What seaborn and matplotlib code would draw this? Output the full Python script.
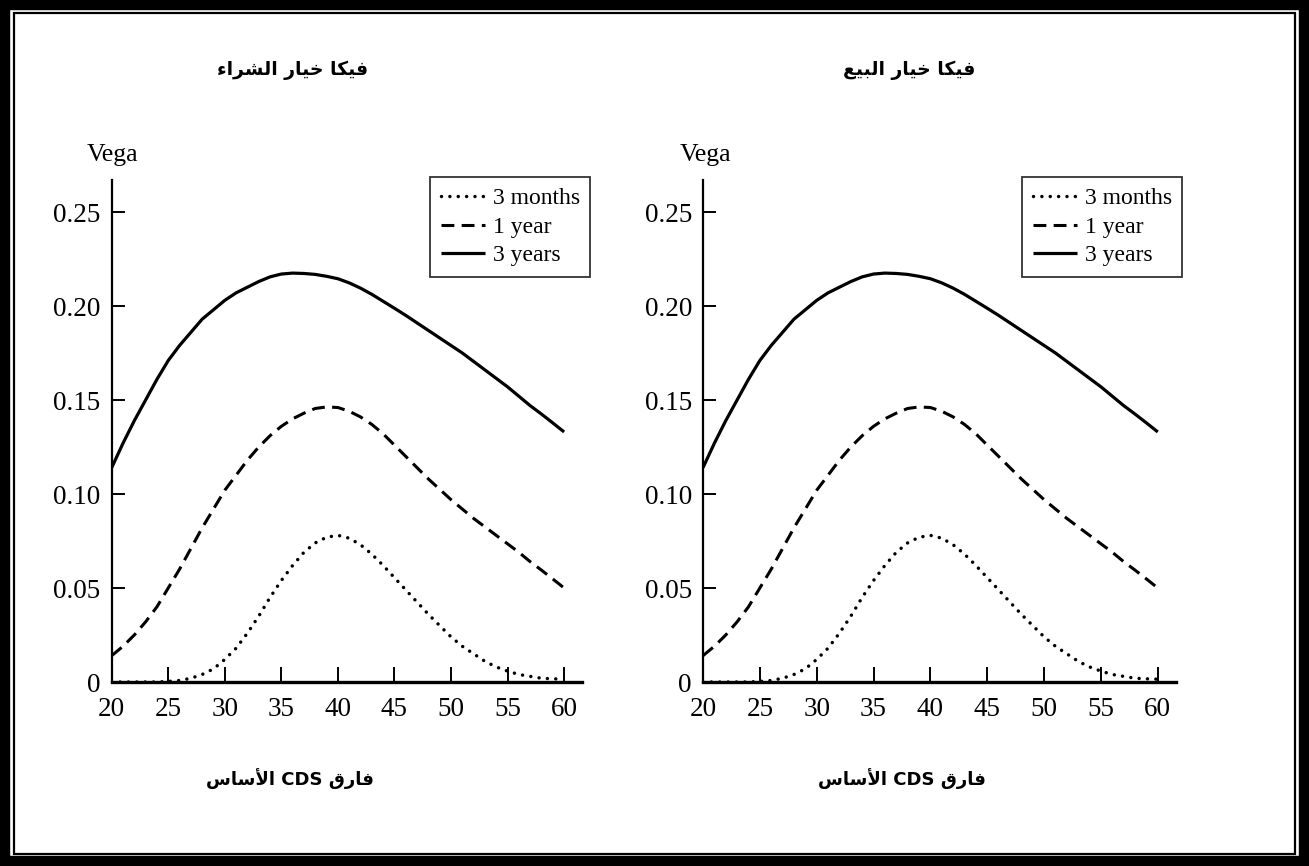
import matplotlib
matplotlib.use("Agg")
import matplotlib.pyplot as plt
import seaborn as sns
import pandas as pd
from matplotlib.patches import Rectangle

# ---------------- data ----------------
spread = list(range(20, 61))
vega_3m = [0.0, 0.0, 0.0, 0.0, 0.0, 0.0003, 0.0008, 0.002, 0.004, 0.007,
           0.012, 0.018, 0.026, 0.035, 0.045, 0.054, 0.062, 0.069, 0.074, 0.077,
           0.078, 0.0765, 0.073, 0.068, 0.062, 0.0555, 0.049, 0.0425, 0.036, 0.030,
           0.024, 0.019, 0.015, 0.011, 0.008, 0.0058, 0.004, 0.003, 0.002, 0.0017,
           0.0015]
vega_1y = [0.014, 0.019, 0.025, 0.032, 0.040, 0.050, 0.060, 0.071, 0.082, 0.092,
           0.102, 0.110, 0.118, 0.125, 0.131, 0.136, 0.140, 0.143, 0.1455, 0.1463,
           0.146, 0.144, 0.141, 0.137, 0.132, 0.126, 0.120, 0.114, 0.108, 0.1025,
           0.097, 0.092, 0.087, 0.0825, 0.078, 0.0735, 0.069, 0.064, 0.0595, 0.0548,
           0.050]
vega_3y = [0.114, 0.127, 0.139, 0.150, 0.161, 0.171, 0.179, 0.186, 0.193, 0.198,
           0.203, 0.207, 0.210, 0.213, 0.2155, 0.217, 0.2175, 0.2173, 0.2168, 0.2158,
           0.2145, 0.2123, 0.2095, 0.2062, 0.2025, 0.1988, 0.195, 0.191, 0.187, 0.183,
           0.179, 0.175, 0.1705, 0.166, 0.1615, 0.157, 0.152, 0.147, 0.1425, 0.1378,
           0.133]
series_labels = ["3 months", "1 year", "3 years"]
x_ticks = [20, 25, 30, 35, 40, 45, 50, 55, 60]
y_ticks = [0, 0.05, 0.10, 0.15, 0.20, 0.25]
y_tick_labels = ["0", "0.05", "0.10", "0.15", "0.20", "0.25"]
titles = ["فيكا خيار الشراء", "فيكا خيار البيع"]
x_label = "فارق CDS الأساس"
y_label = "Vega"

# ------------- minimal Arabic shaping (presentation forms, RTL) -------------
FORMS = {
    'ا': ('\uFE8D', '\uFE8E', None, None),
    'أ': ('\uFE83', '\uFE84', None, None),
    'ء': ('\uFE80', None, None, None),
    'ب': ('\uFE8F', '\uFE90', '\uFE91', '\uFE92'),
    'ي': ('\uFEF1', '\uFEF2', '\uFEF3', '\uFEF4'),
    'ك': ('\uFED9', '\uFEDA', '\uFEDB', '\uFEDC'),
    'ف': ('\uFED1', '\uFED2', '\uFED3', '\uFED4'),
    'خ': ('\uFEA5', '\uFEA6', '\uFEA7', '\uFEA8'),
    'ر': ('\uFEAD', '\uFEAE', None, None),
    'ل': ('\uFEDD', '\uFEDE', '\uFEDF', '\uFEE0'),
    'ش': ('\uFEB5', '\uFEB6', '\uFEB7', '\uFEB8'),
    'ع': ('\uFEC9', '\uFECA', '\uFECB', '\uFECC'),
    'ق': ('\uFED5', '\uFED6', '\uFED7', '\uFED8'),
    'س': ('\uFEB1', '\uFEB2', '\uFEB3', '\uFEB4'),
}
LAM_ALEF = {'ا': ('\uFEFB', '\uFEFC'), 'أ': ('\uFEF7', '\uFEF8')}


def shape_word(word):
    units = []
    i = 0
    while i < len(word):
        c = word[i]
        if c == 'ل' and i + 1 < len(word) and word[i + 1] in LAM_ALEF:
            units.append(('LA', word[i + 1]))
            i += 2
        else:
            units.append(('C', c))
            i += 1

    def joins_next(u):
        k, c = u
        if k == 'LA':
            return False
        f = FORMS.get(c)
        return f is not None and f[2] is not None

    def joins_prev(u):
        k, c = u
        if k == 'LA':
            return True
        f = FORMS.get(c)
        return f is not None and f[1] is not None

    out = []
    for n, u in enumerate(units):
        pj = n > 0 and joins_next(units[n - 1]) and joins_prev(u)
        nj = n + 1 < len(units) and joins_next(u) and joins_prev(units[n + 1])
        k, c = u
        if k == 'LA':
            out.append(LAM_ALEF[c][1] if pj else LAM_ALEF[c][0])
        elif c in FORMS:
            iso, fin, ini, med = FORMS[c]
            if pj and nj:
                g = med
            elif pj:
                g = fin
            elif nj:
                g = ini
            else:
                g = iso
            out.append(g)
        else:
            out.append(c)
    return ''.join(reversed(out))


def visual(text):
    words = text.split(' ')
    shaped = [shape_word(w) if any('\u0600' <= ch <= '\u06FF' for ch in w) else w for w in words]
    return ' '.join(reversed(shaped))


# ---------------- style ----------------
sns.set_style("white")
plt.rcParams['font.family'] = ['Liberation Serif', 'DejaVu Serif']
plt.rcParams['axes.edgecolor'] = 'black'
plt.rcParams['text.color'] = 'black'
plt.rcParams['lines.solid_joinstyle'] = 'round'
plt.rcParams['lines.dash_joinstyle'] = 'round'

df = pd.DataFrame({
    "spread": spread * 3,
    "vega": vega_3m + vega_1y + vega_3y,
    "maturity": [series_labels[0]] * len(spread) + [series_labels[1]] * len(spread) + [series_labels[2]] * len(spread),
})

W, H = 1309, 866
fig = plt.figure(figsize=(W / 100, H / 100), dpi=100)
fig.patch.set_facecolor('white')

# page frame
fig.add_artist(Rectangle((5 / W, 5 / H), 1 - 10 / W, 1 - 10 / H, transform=fig.transFigure,
                         fill=False, edgecolor='black', linewidth=7.5))
fig.add_artist(Rectangle((14 / W, 12 / H), 1 - 28 / W, 1 - 25 / H, transform=fig.transFigure,
                         fill=False, edgecolor='black', linewidth=1.6))

y0_px = 682
y_per_unit = 1880
ymax = 0.267
xmax = 61.6

panels = [
    dict(x0=111.7, xpu=11.31, title_x=293, xlabel_x=290, vega_x=113, leg_x=430),
    dict(x0=703.0, xpu=11.37, title_x=909, xlabel_x=902, vega_x=706, leg_x=1022),
]

dash_map = {series_labels[0]: (0.01, 2.4), series_labels[1]: (4.2, 2.4), series_labels[2]: ""}

for p, title in zip(panels, titles):
    ax = fig.add_axes([p['x0'] / W, 1 - y0_px / H, (xmax - 20) * p['xpu'] / W, ymax * y_per_unit / H])
    sns.lineplot(data=df, x="spread", y="vega", style="maturity", style_order=series_labels,
                 dashes=dash_map, color='black', linewidth=2.3, legend=False, ax=ax)
    lws = [2.5, 2.2, 2.3]
    for line, lw in zip(ax.lines[:3], lws):
        line.set_linewidth(lw)
    ax.lines[0].set_dash_capstyle('round')
    ax.lines[1].set_dash_capstyle('butt')
    ax.lines[2].set_solid_capstyle('butt')

    ax.set_xlim(20, xmax)
    ax.set_ylim(0, ymax)
    ax.set_xticks(x_ticks)
    ax.set_yticks(y_ticks)
    ax.set_yticklabels(y_tick_labels)
    ax.set_xlabel("")
    ax.set_ylabel("")
    for s in ['top', 'right']:
        ax.spines[s].set_visible(False)
    ax.spines['left'].set_linewidth(1.6)
    ax.spines['bottom'].set_linewidth(2.4)
    ax.patch.set_alpha(0)
    ax.tick_params(axis='x', direction='in', length=11, width=1.4, pad=11, labelsize=19.5, colors='black')
    ax.tick_params(axis='y', direction='in', length=9, width=1.4, pad=8, labelsize=19.5, colors='black')
    ax.tick_params(axis='x', which='both', bottom=True)
    ax.tick_params(axis='y', which='both', left=True)

    leg = ax.legend(ax.lines[:3], series_labels, loc='upper left',
                    bbox_to_anchor=(p['leg_x'] / W, 1 - 177 / H), bbox_transform=fig.transFigure,
                    frameon=True, fancybox=False, edgecolor='black', fontsize=17,
                    handlelength=1.9, handletextpad=0.3, labelspacing=0.3, borderpad=0.45,
                    borderaxespad=0)
    leg.get_frame().set_linewidth(1.3)

    fig.text(p['vega_x'] / W, 1 - 155 / H, y_label, ha='center', va='center', fontsize=18.5)
    fig.text(p['title_x'] / W, 1 - 70 / H, visual(title), ha='center', va='center',
             fontsize=13.5, fontweight='bold', family=['DejaVu Sans'])
    fig.text(p['xlabel_x'] / W, 1 - 779 / H, visual(x_label), ha='center', va='center',
             fontsize=13, fontweight='bold', family=['DejaVu Sans'])

fig.savefig("out.png", dpi=100, facecolor='white')
